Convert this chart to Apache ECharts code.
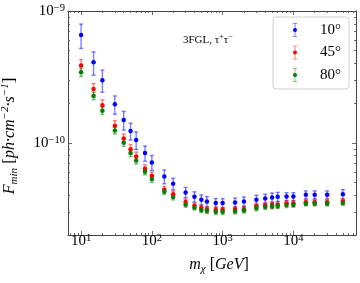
<!DOCTYPE html>
<html><head><meta charset="utf-8">
<script src="https://cdn.jsdelivr.net/npm/echarts@6/dist/echarts.min.js"></script>
<style>html,body{margin:0;padding:0;background:#fff}#c{width:360px;height:283px}</style>
</head><body><div id="c"></div>
<script>
// ---- data ----
const masses = [10,15,20,30,40,50,60,80,100,150,200,300,400,500,600,800,1000,1500,2000,3000,4000,5000,6000,8000,10000,15000,20000,30000,50000];
const seriesNames = ['10°','45°','80°'];
const blueVals = [6.58e-10,4.08e-10,2.99e-10,1.96e-10,1.49e-10,1.23e-10,1.05e-10,8.36e-11,7.1e-11,5.56e-11,4.89e-11,4.21e-11,3.9e-11,3.7e-11,3.59e-11,3.5e-11,3.49e-11,3.53e-11,3.59e-11,3.7e-11,3.78e-11,3.85e-11,3.9e-11,3.92e-11,3.92e-11,4.04e-11,4.04e-11,4.04e-11,4.08e-11];
const blueErr = [1.38e-10,0.82e-10,0.57e-10,0.31e-10,0.24e-10,0.18e-10,0.16e-10,1.09e-11,0.92e-11,0.67e-11,0.49e-11,0.38e-11,0.35e-11,0.33e-11,0.32e-11,0.28e-11,0.28e-11,0.28e-11,0.29e-11,0.30e-11,0.30e-11,0.31e-11,0.31e-11,0.27e-11,0.27e-11,0.28e-11,0.28e-11,0.28e-11,0.33e-11];
const redVals = [3.86e-10,2.56e-10,1.93e-10,1.35e-10,1.08e-10,8.96e-11,7.87e-11,6.36e-11,5.62e-11,4.41e-11,4.08e-11,3.56e-11,3.33e-11,3.2e-11,3.12e-11,3.1e-11,3.09e-11,3.12e-11,3.14e-11,3.3e-11,3.35e-11,3.37e-11,3.39e-11,3.47e-11,3.47e-11,3.54e-11,3.54e-11,3.54e-11,3.59e-11];
const redErr = [0.42e-10,0.26e-10,0.19e-10,0.12e-10,0.86e-11,0.72e-11,0.63e-11,0.45e-11,0.39e-11,0.26e-11,0.24e-11,0.18e-11,0.17e-11,0.16e-11,0.16e-11,0.16e-11,0.15e-11,0.16e-11,0.16e-11,0.17e-11,0.17e-11,0.17e-11,0.17e-11,0.17e-11,0.17e-11,0.18e-11,0.18e-11,0.18e-11,0.18e-11];
const greenVals = [3.43e-10,2.27e-10,1.75e-10,1.24e-10,1.0e-10,8.36e-11,7.34e-11,6.06e-11,5.31e-11,4.28e-11,3.88e-11,3.39e-11,3.24e-11,3.1e-11,3.05e-11,3.0e-11,3.0e-11,3.03e-11,3.08e-11,3.2e-11,3.27e-11,3.3e-11,3.32e-11,3.37e-11,3.39e-11,3.47e-11,3.47e-11,3.47e-11,3.5e-11];
const greenErr = [0.24e-10,0.15e-10,0.11e-10,0.74e-11,0.6e-11,0.5e-11,0.44e-11,0.33e-11,0.29e-11,0.21e-11,0.19e-11,0.14e-11,0.14e-11,0.14e-11,0.14e-11,0.14e-11,0.14e-11,0.14e-11,0.14e-11,0.14e-11,0.14e-11,0.14e-11,0.14e-11,0.14e-11,0.14e-11,0.14e-11,0.14e-11,0.14e-11,0.14e-11];
// ---- ticks ----
const xMajorTicks = [10,100,1000,10000];
const xMinorTicks = [7,8,9,20,30,40,50,60,70,80,90,200,300,400,500,600,700,800,900,2000,3000,4000,5000,6000,7000,8000,9000,20000,30000,40000,50000,60000,70000];
const yMajorTicks = [1e-10,1e-9];
const yMinorTicks = [3e-11,4e-11,5e-11,6e-11,7e-11,8e-11,9e-11,2e-10,3e-10,4e-10,5e-10,6e-10,7e-10,8e-10,9e-10];
const xRange = [6.53, 76700];
const yRange = [2e-11, 1e-9];

const FONT = 'Liberation Serif';
const colors = ['#0000ff','#ff0000','#008000'];
const errColors = ['rgba(0,0,255,0.5)','rgba(255,0,0,0.5)','rgba(0,128,0,0.5)'];
const valsList = [blueVals, redVals, greenVals];
const errList = [blueErr, redErr, greenErr];

const chart = echarts.init(document.getElementById('c'), null, {renderer:'canvas'});

function expLabel(v){
  const e = Math.round(Math.log10(v));
  const s = (e < 0 ? '\u2212' + (-e) : '' + e);
  return '{b|10}{s|' + s + '}';
}
const labelRich = {
  b:{fontFamily:FONT,fontSize:15,lineHeight:16,color:'#000'},
  s:{fontFamily:FONT,fontSize:10.5,lineHeight:8,verticalAlign:'top',color:'#000'}
};
const lineCol = '#444';
function xAx(pos, ticks, len, showLine, showLabel){
  return {type:'log', logBase:10, min:xRange[0], max:xRange[1], position:pos, gridIndex:0,
    axisLine:{show:showLine, lineStyle:{color:lineCol,width:1}},
    axisTick:{show:true, inside:true, length:len, customValues:ticks, lineStyle:{color:lineCol,width:0.8}},
    axisLabel:{show:showLabel, customValues:ticks, formatter:expLabel, rich:labelRich, margin:-2},
    splitLine:{show:false}, minorTick:{show:false}, minorSplitLine:{show:false}};
}
function yAx(pos, ticks, len, showLine, showLabel){
  return {type:'log', logBase:10, min:yRange[0], max:yRange[1], position:pos, gridIndex:0,
    axisLine:{show:showLine, lineStyle:{color:lineCol,width:1}},
    axisTick:{show:true, inside:true, length:len, customValues:ticks, lineStyle:{color:lineCol,width:0.8}},
    axisLabel:{show:showLabel, customValues:ticks, formatter:expLabel, rich:labelRich, margin:3},
    splitLine:{show:false}, minorTick:{show:false}, minorSplitLine:{show:false}};
}
const xAxes = [xAx('bottom',xMajorTicks,4,true,true), xAx('bottom',xMinorTicks,2,false,false), xAx('top',xMajorTicks,4,true,false), xAx('top',xMinorTicks,2,false,false)];
const yAxes = [yAx('left',yMajorTicks,4,true,true), yAx('left',yMinorTicks,2,false,false), yAx('right',yMajorTicks,4,true,false), yAx('right',yMinorTicks,2,false,false)];
xAxes[0].name = '{i|m}{sub|\u03c7}{n| [}{i|GeV}{n|]}';
xAxes[0].nameLocation = 'middle';
xAxes[0].nameGap = 20;
xAxes[0].nameTextStyle = {padding:[0,0,0,14], rich:{
  i:{fontFamily:FONT,fontStyle:'italic',fontSize:16,lineHeight:20,color:'#000'},
  n:{fontFamily:FONT,fontSize:16,lineHeight:20,color:'#000'},
  sub:{fontFamily:FONT,fontStyle:'italic',fontSize:11,lineHeight:11,verticalAlign:'bottom',color:'#000'}
}};
yAxes[0].name = '{i|F}{sub|min}{n| [}{i|ph\u00b7cm}{sup|\u22122}{i|\u00b7s}{sup|\u22121}{n|]}';
yAxes[0].nameLocation = 'middle';
yAxes[0].nameRotate = 90;
yAxes[0].nameGap = 48;
yAxes[0].nameTextStyle = {padding:[0,26,0,0], rich:{
  i:{fontFamily:FONT,fontStyle:'italic',fontSize:16,lineHeight:20,color:'#000'},
  n:{fontFamily:FONT,fontSize:17,lineHeight:20,color:'#000'},
  sub:{fontFamily:FONT,fontStyle:'italic',fontSize:11,lineHeight:11,verticalAlign:'bottom',color:'#000'},
  sup:{fontFamily:FONT,fontStyle:'italic',fontSize:11,lineHeight:9,verticalAlign:'top',color:'#000'}
}};

const series = [];
seriesNames.forEach((nm, k) => {
  const vals = valsList[k], errs = errList[k];
  series.push({
    type:'custom', name:nm, xAxisIndex:0, yAxisIndex:0, silent:true, z:2+k,
    data: masses.map((m,i)=>[m, vals[i]-errs[i], vals[i]+errs[i]]),
    encode:{x:0, y:[1,2]},
    renderItem:(params, api) => {
      const x = api.value(0);
      const lo = api.coord([x, api.value(1)]);
      const hi = api.coord([x, api.value(2)]);
      const c = 2; const st = {stroke:errColors[k], lineWidth:1.4};
      return {type:'group', children:[
        {type:'line', shape:{x1:lo[0],y1:lo[1],x2:hi[0],y2:hi[1]}, style:st},
        {type:'line', shape:{x1:lo[0]-c,y1:lo[1],x2:lo[0]+c,y2:lo[1]}, style:st},
        {type:'line', shape:{x1:hi[0]-c,y1:hi[1],x2:hi[0]+c,y2:hi[1]}, style:st}
      ]};
    }
  });
});
seriesNames.forEach((nm, k) => {
  series.push({
    type:'scatter', name:nm, xAxisIndex:0, yAxisIndex:0, z:10+k,
    symbol:'circle', symbolSize:4.5, itemStyle:{color:colors[k], opacity:1},
    data: masses.map((m,i)=>[m, valsList[k][i]]), silent:true
  });
});

const barIcon = 'path://M0,0H4V1H2.5V13H4V14H0V13H1.5V1H0Z';
const legendCommon = {
  orient:'vertical', left:273, top:17, itemWidth:4, itemHeight:14, itemGap:6.5,
  padding:[5,8,6,20], selectedMode:false,
  textStyle:{fontFamily:FONT, fontSize:15, lineHeight:16, padding:[0,0,0,18]}
};
const option = {
  animation:false,
  backgroundColor:'#fff',
  grid:{left:68, right:4, top:11, bottom:48, outerBoundsMode:'none', containLabel:false},
  xAxis:xAxes, yAxis:yAxes,
  legend:[
    Object.assign({}, legendCommon, {
      backgroundColor:'rgba(255,255,255,0.8)', borderColor:'#d0d0d0', borderWidth:1, borderRadius:3,
      textStyle:Object.assign({}, legendCommon.textStyle, {color:'#000'}),
      itemStyle:{borderWidth:0},
      data: seriesNames.map((nm,k)=>({name:nm, icon:barIcon, itemStyle:{color:errColors[k], borderWidth:0}}))
    }),
    Object.assign({}, legendCommon, {
      z:20,
      textStyle:Object.assign({}, legendCommon.textStyle, {color:'rgba(0,0,0,0)'}),
      itemStyle:{borderWidth:0},
      data: seriesNames.map((nm,k)=>({name:nm, icon:'circle', itemStyle:{color:colors[k], borderWidth:0}}))
    })
  ],
  graphic:[{
    type:'text', left:183, top:33,
    style:{text:'{n|3FGL, \u03c4}{s|+}{n|\u03c4}{s|\u2212}', rich:{
      n:{fontFamily:FONT,fontSize:11,lineHeight:14,color:'#000'},
      s:{fontFamily:FONT,fontSize:8,lineHeight:8,verticalAlign:'top',color:'#000'}
    }}
  }],
  series:series
};
chart.setOption(option);
</script>
</body></html>
